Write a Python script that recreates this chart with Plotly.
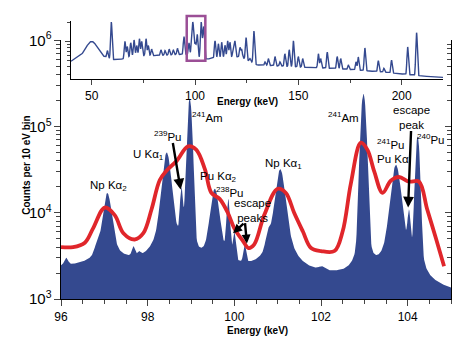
import numpy as np
import plotly.graph_objects as go

# ---------------- data ----------------
# main (high-resolution) spectrum: peak list (keV, counts at peak top), widths
main_peak_energy = [96.12, 96.82, 97.07, 97.67, 97.80, 98.44, 98.78, 98.97, 99.55, 99.86,
                    100.00, 100.24, 100.78, 101.06, 102.02, 102.98, 103.73, 104.03, 104.23]
main_peak_counts = [3.0e3, 4.5e3, 1.7e4, 4.1e3, 3.6e3, 5.0e4, 2.0e4, 2.1e5, 1.9e4, 1.45e4,
                    6.0e3, 4.3e3, 6.6e3, 3.2e4, 2.4e3, 2.4e5, 3.6e4, 1.1e4, 7.7e4]
main_peak_fwhm = [0.10, 0.12, 0.20, 0.08, 0.08, 0.20, 0.07, 0.11, 0.20, 0.08,
                  0.07, 0.07, 0.12, 0.22, 0.15, 0.12, 0.22, 0.07, 0.10]
main_peak_lorentz = [0.3, 0.3, 0.6, 0.2, 0.2, 0.5, 0.2, 0.06, 0.5, 0.15,
                     0.15, 0.15, 0.3, 0.6, 0.2, 0.07, 0.5, 0.15, 0.12]
main_cont_energy = [96.0, 97.5, 99.0, 100.5, 102.0, 103.5, 105.0]
main_cont_counts = [2.3e3, 2.5e3, 2.2e3, 2.0e3, 1.8e3, 1.5e3, 1.15e3]

# low-resolution (red) spectrum, read point by point
red_energy = [96.00, 96.28, 96.55, 96.74, 97.01, 97.24, 97.44, 97.70, 97.90, 98.09, 98.28,
              98.44, 98.67, 98.93, 99.12, 99.32, 99.47, 99.66, 99.85, 100.00, 100.20, 100.33,
              100.46, 100.69, 101.00, 101.19, 101.38, 101.58, 101.77, 102.00, 102.31, 102.50,
              102.69, 102.92, 103.07, 103.23, 103.42, 103.61, 103.80, 104.03, 104.26, 104.45,
              104.65, 104.84]
red_counts = [4.0e3, 4.0e3, 4.5e3, 6.6e3, 1.15e4, 9.4e3, 5.8e3, 4.9e3, 5.8e3, 1.1e4, 2.4e4,
              3.1e4, 4.0e4, 5.9e4, 5.4e4, 3.2e4, 1.7e4, 1.45e4, 1.0e4, 6.6e3, 4.7e3, 3.9e3,
              4.3e3, 9.4e3, 1.9e4, 1.7e4, 1.0e4, 6.1e3, 3.9e3, 3.6e3, 3.6e3, 6.1e3,
              2.2e4, 6.5e4, 5.4e4, 3.0e4, 1.7e4, 2.35e4, 2.6e4, 2.3e4, 2.3e4, 1.1e4,
              5.1e3, 2.4e3]

# inset: full-range spectrum
inset_peak_energy = [44.6, 50.0, 57.6, 59.5, 66.1, 67.2, 68.9, 70.5, 71.8, 73.1, 74.2, 76.3,
                     77.4, 79.0, 83.5, 85.5, 87.5, 89.5, 91.5, 94.65, 97.07, 98.44, 98.97,
                     99.55, 100.2, 101.06, 102.98, 103.73, 104.23, 109.7, 111.3, 112.9, 114.5,
                     115.8, 116.9, 118.5, 119.3, 121.8, 122.6, 124.7, 126.6, 128.5, 133.9,
                     135.5, 138.7, 141.1, 143.5, 145.6, 147.6, 150.0, 152.1, 159.7, 160.8,
                     164.0, 168.8, 170.5, 174.2, 177.9, 179.0, 182.2, 188.7, 191.4, 195.1,
                     202.9, 207.2]
inset_peak_counts = [6.2e5, 1.0e6, 7.2e5, 2.0e6, 1.0e6, 8.3e5, 9.5e5, 1.05e6, 8.6e5, 1.1e6,
                     1.0e6, 1.1e6, 8.6e5, 7.6e5, 7.4e5, 7.2e5, 7.6e5, 7.4e5, 7.8e5, 1.2e6,
                     9.5e5, 1.5e6, 2.0e6, 1.1e6, 9.5e5, 1.3e6, 2.0e6, 1.2e6, 1.7e6, 1.02e6,
                     9.2e5, 9.7e5, 8.7e5, 1.02e6, 9.7e5, 8.0e5, 1.02e6, 8.1e5, 7.5e5, 1.15e6,
                     5.4e5, 1.45e6, 4.8e5, 5.4e5, 5.8e5, 4.8e5, 6.4e5, 7.4e5, 1.02e6, 5.8e5,
                     5.4e5, 6.4e5, 5.4e5, 6.8e5, 5.8e5, 5.4e5, 4.3e5, 4.8e5, 5.7e5, 7.9e5,
                     5.0e5, 3.8e5, 5.1e5, 8.2e5, 1.37e6]
inset_peak_sigma = [0.3, 2.5] + [0.3] * 63
inset_cont_energy = [40, 43, 50, 57, 60, 65, 70, 80, 90, 96, 106, 109, 122, 126, 130, 150,
                     170, 190, 205, 212, 220]
inset_cont_counts = [4.9e5, 5.6e5, 5.9e5, 5.6e5, 5.2e5, 5.3e5, 6.0e5, 6.0e5, 6.2e5, 6.3e5,
                     5.3e5, 5.5e5, 5.8e5, 5.0e5, 4.3e5, 4.0e5, 3.75e5, 3.35e5, 3.0e5, 2.85e5,
                     2.75e5]

# arrow targets (keV, counts) and tail offsets (px)
arrow_energy = [98.76, 99.97, 100.29, 104.01]
arrow_counts = [1.86e4, 5.8e3, 4.4e3, 1.15e4]
arrow_dx = [-8, 12, -2, 3]
arrow_dy = [-48, -11, -22, -78]
arrow_size = [0.9, 0.75, 0.75, 0.9]

# ---------------- build spectra from the peak lists ----------------
def pvoigt(x, c, w, eta):
    g = np.exp(-4 * np.log(2) * (x - c) ** 2 / w ** 2)
    l = 1.0 / (1 + 4 * (x - c) ** 2 / w ** 2)
    return eta * l + (1 - eta) * g


def logcont(x, ke, kc):
    return 10 ** np.interp(x, ke, np.log10(kc))


E = np.round(np.arange(96.0, 105.0001, 0.01), 2)
pc = np.array(main_peak_energy)
ph = np.array(main_peak_counts)
pw = np.array(main_peak_fwhm)
pe = np.array(main_peak_lorentz)
M = np.array([[pvoigt(ci, cj, wj, ej) for cj, wj, ej in zip(pc, pw, pe)] for ci in pc])
amp = np.clip(np.linalg.solve(M, ph - logcont(pc, main_cont_energy, main_cont_counts)), 0, None)
main_counts = logcont(E, main_cont_energy, main_cont_counts)
for a, c, w, e in zip(amp, pc, pw, pe):
    main_counts = main_counts + a * pvoigt(E, c, w, e)

Ei = np.round(np.arange(40.0, 220.0001, 0.1), 1)
ic = np.array(inset_peak_energy)
ih = np.array(inset_peak_counts)
isg = np.array(inset_peak_sigma)
Mi = np.array([[np.exp(-(a - c) ** 2 / (2 * s ** 2)) for c, s in zip(ic, isg)] for a in ic])
iamp = np.clip(np.linalg.solve(Mi, ih - logcont(ic, inset_cont_energy, inset_cont_counts)), 0, None)
inset_counts = logcont(Ei, inset_cont_energy, inset_cont_counts)
for a, c, s in zip(iamp, ic, isg):
    inset_counts = inset_counts + a * np.exp(-(Ei - c) ** 2 / (2 * s ** 2))

# ---------------- figure ----------------
BLUE = "#34498f"
RED = "#e0262b"
PURPLE = "#9b4f96"
FONT = "Liberation Sans"

W, H = 458, 339
ML, MR, MT, MB = 61, 7, 10, 40
PW, PH = W - ML - MR, H - MT - MB


def px(x, y):
    return dict(x=(x - ML) / PW, y=(H - MB - y) / PH, xref="paper", yref="paper",
                xanchor="center", yanchor="middle")


fig = go.Figure()
fig.add_trace(go.Scatter(x=E, y=np.ones_like(E), mode="lines", line=dict(width=0),
                         hoverinfo="skip", showlegend=False))
fig.add_trace(go.Scatter(x=E, y=main_counts, mode="lines", line=dict(width=0, color=BLUE),
                         fill="tonexty", fillcolor=BLUE, showlegend=False))
fig.add_trace(go.Scatter(x=red_energy, y=red_counts, mode="lines",
                         line=dict(color=RED, width=3.8, shape="spline", smoothing=1.0),
                         showlegend=False))
fig.add_trace(go.Scatter(x=[96, 105], y=[1e3, 1e3], yaxis="y2", mode="lines",
                         line=dict(width=0), hoverinfo="skip", showlegend=False))
fig.add_trace(go.Scatter(x=Ei, y=inset_counts, xaxis="x2", yaxis="y3", mode="lines",
                         line=dict(color=BLUE, width=1.4), showlegend=False))

main_top = (H - MB - 33) / PH
fig.update_layout(
    width=W, height=H, margin=dict(l=ML, r=MR, t=MT, b=MB),
    paper_bgcolor="white", plot_bgcolor="white",
    font=dict(family=FONT, size=12, color="black"),
    xaxis=dict(domain=[0, 1], range=[96, 105], anchor="y", showline=True, linecolor="black",
               linewidth=1.2, ticks="outside", ticklen=6, tickwidth=1.2,
               tickvals=[96, 98, 100, 102, 104], showgrid=False, zeroline=False,
               minor=dict(ticks="outside", ticklen=4, dtick=0.5, tickwidth=1, showgrid=False)),
    yaxis=dict(domain=[0, main_top], type="log", range=[3, 6], anchor="x", showline=True,
               linecolor="black", linewidth=1.2, ticks="outside", ticklen=6, tickwidth=1.2,
               dtick=1, exponentformat="power", showgrid=False, zeroline=False,
               minor=dict(ticks="outside", ticklen=3.5, dtick="D1", showgrid=False)),
    yaxis2=dict(overlaying="y", side="right", type="log", range=[3, 6], anchor="x",
                showline=True, linecolor="black", linewidth=1.2, ticks="inside", ticklen=6,
                dtick=1, showticklabels=False, showgrid=False, zeroline=False,
                minor=dict(ticks="inside", ticklen=3.5, dtick="D1", showgrid=False)),
    xaxis2=dict(domain=[(71 - ML) / PW, (443 - ML) / PW], range=[40, 220], anchor="y3",
                showline=True, linecolor="black", linewidth=1.2, ticks="outside", ticklen=5,
                tickvals=[50, 100, 150, 200], showgrid=False, zeroline=False,
                minor=dict(ticks="outside", ticklen=3, dtick=25, showgrid=False)),
    yaxis3=dict(domain=[(H - MB - 73) / PH, (H - MB - 13) / PH], type="log",
                range=[5.41, 6.32], anchor="x2", showline=True, linecolor="black",
                linewidth=1.2, ticks="outside", ticklen=5, dtick=1, showticklabels=False,
                showgrid=False, zeroline=False,
                minor=dict(ticks="outside", ticklen=3, dtick="D1", showgrid=False)),
)

# zoom box on the inset = main x range
fig.add_shape(type="rect", xref="x2", yref="paper", x0=96, x1=105,
              y0=(H - MB - 54) / PH, y1=(H - MB - 8) / PH,
              line=dict(color=PURPLE, width=2.5))

ann = []
bold = dict(family=FONT, size=10, color="black")
ann.append(dict(text="<b>Energy (keV)</b>", showarrow=False, font=bold, **px(257, 331)))
ann.append(dict(text="<b>Energy (keV)</b>", showarrow=False, font=bold, **px(247, 96)))
ann.append(dict(text="<b>Counts per 10 eV bin</b>", showarrow=False, font=bold,
                textangle=-90, **px(27, 162)))

lab = dict(family=FONT, size=11.5, color="black")
labels = [
    ("Np Kα<sub>2</sub>", 108, 183),
    ("U Kα<sub>1</sub>", 148, 151),
    ("<sup>239</sup>Pu", 168, 131),
    ("<sup>241</sup>Am", 207, 112),
    ("Pu Kα<sub>2</sub>", 218, 174),
    ("<sup>238</sup>Pu", 230, 189),
    ("escape<br>peaks", 252, 208),
    ("Np Kα<sub>1</sub>", 283, 160),
    ("<sup>241</sup>Am", 343, 112),
    ("<sup>241</sup>Pu", 391, 140),
    ("Pu Kα", 393, 155),
    ("escape<br>peak", 411, 112),
    ("<sup>240</sup>Pu", 431, 134),
]
for t, x, y in labels:
    ann.append(dict(text=t, showarrow=False, font=lab, **px(x, y)))

for e, c, dx, dy, s in zip(arrow_energy, arrow_counts, arrow_dx, arrow_dy, arrow_size):
    ann.append(dict(x=e, y=np.log10(c), xref="x", yref="y", text="", showarrow=True,
                    ax=dx, ay=dy, arrowhead=2, arrowsize=s, arrowwidth=2.4,
                    arrowcolor="black", standoff=0))

fig.update_layout(annotations=ann)
fig.write_html("out.html", config={"displayModeBar": False},
               post_script="document.body.style.margin='0px';")
